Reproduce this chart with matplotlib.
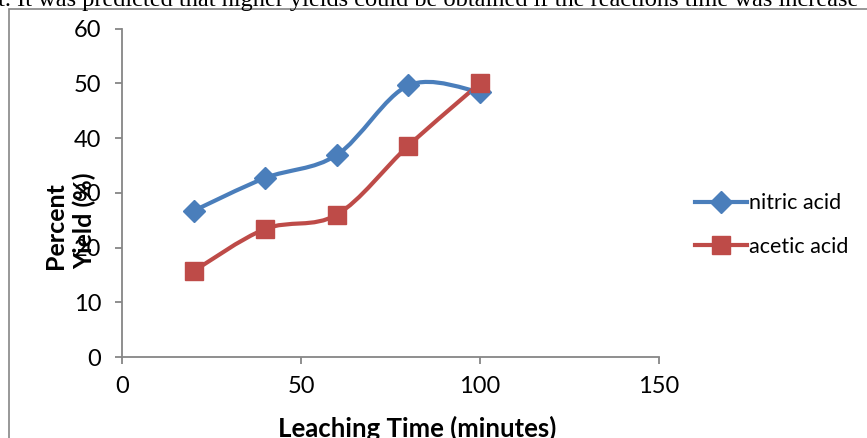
import numpy as np
import matplotlib
matplotlib.use('Agg')
import matplotlib.pyplot as plt
from matplotlib.path import Path
from matplotlib.patches import PathPatch, Rectangle
from matplotlib.lines import Line2D

# %% DATA
time_min    = [20, 40, 60, 80, 100]
nitric_acid = [26.7, 32.7, 36.9, 49.6, 48.4]
acetic_acid = [15.7, 23.4, 26.0, 38.6, 50.0]
x_ticks     = [0, 50, 100, 150]
y_ticks     = [0, 10, 20, 30, 40, 50, 60]

blue = '#4A7EBB'
red  = '#BE4B48'
grey = '#868686'
font = 'Lato'


def smooth_path(x, y):
    # Excel style smoothed line: cubic Bezier through every point
    p = np.column_stack([x, y]).astype(float)
    p_ext = np.vstack([p[0], p, p[-1]])
    verts = [p[0]]
    codes = [Path.MOVETO]
    for i in range(len(p) - 1):
        a, b, c, d = p_ext[i], p_ext[i + 1], p_ext[i + 2], p_ext[i + 3]
        verts += [b + (c - a) / 6.0, c - (d - b) / 6.0, c]
        codes += [Path.CURVE4] * 3
    return Path(verts, codes)


fig = plt.figure(figsize=(8.67, 4.38), dpi=100)
ax = fig.add_axes([0.1407, 0.1849, 0.6194, 0.7500])

for yy, col, mk, ms, lbl in [(nitric_acid, blue, 'D', 11, 'nitric acid'),
                              (acetic_acid, red, 's', 13, 'acetic acid')]:
    ax.add_patch(PathPatch(smooth_path(time_min, yy), facecolor='none',
                           edgecolor=col, lw=3, capstyle='round', zorder=2))
    ax.plot(time_min, yy, linestyle='none', marker=mk, markersize=ms,
            color=col, zorder=3, label=lbl)

ax.set_xlim(0, 150)
ax.set_ylim(0, 60)
ax.set_xticks(x_ticks)
ax.set_yticks(y_ticks)
for s in ['top', 'right']:
    ax.spines[s].set_visible(False)
for s in ['left', 'bottom']:
    ax.spines[s].set_color(grey)
    ax.spines[s].set_linewidth(1.3)
ax.tick_params(axis='both', colors=grey, labelcolor='black', length=5,
               width=1.3, labelsize=17)
ax.tick_params(axis='y', pad=10)
ax.tick_params(axis='x', pad=9)
for t in ax.get_xticklabels() + ax.get_yticklabels():
    t.set_fontfamily(font)

# Axis titles (Excel put the y title on top of the tick labels)
fig.text(70.5 / 867, 1 - 269 / 438, 'Percent\nYield (%)', rotation=90,
         ha='center', va='bottom', multialignment='left',
         fontsize=18, fontweight='bold', family=font, linespacing=1.3)
fig.text(417 / 867, 1 - 428 / 438, 'Leaching Time (minutes)', ha='center',
         va='center', fontsize=18.5, fontweight='bold', family=font)

# Legend
handles = [Line2D([], [], color=blue, lw=3, marker='D', markersize=11),
           Line2D([], [], color=red, lw=3, marker='s', markersize=13)]
fig.legend(handles, ['nitric acid', 'acetic acid'], loc='center left',
           bbox_to_anchor=(676 / 867, 1 - 225 / 438), frameon=False,
           prop={'family': font, 'size': 15.5}, handlelength=2.4,
           handletextpad=0.1, labelspacing=1.1)

# Chart frame and cut-off document line above it
fig.patches.append(Rectangle((9 / 867, -0.1), 1.2, 1 - 9 / 438 + 0.1,
                             transform=fig.transFigure, fill=False,
                             edgecolor=grey, lw=1.2))
fig.text(-2 / 867, 1 - 6 / 438,
         't. It was predicted that higher yields could be obtained if the reactions time was increase',
         ha='left', va='baseline', fontsize=17.6, family='Liberation Serif')

fig.savefig('out.png', dpi=100)
